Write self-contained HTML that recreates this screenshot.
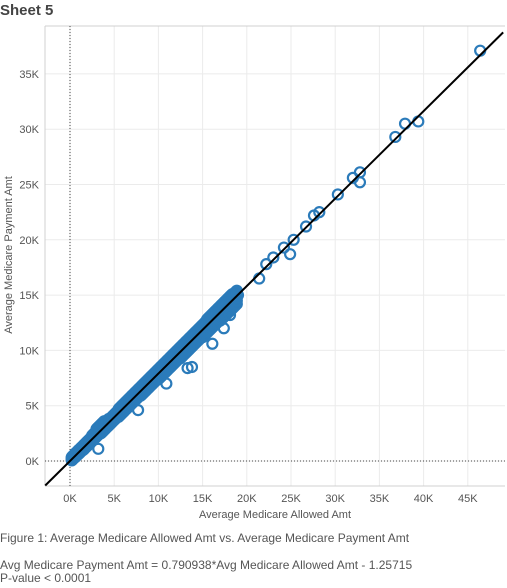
<!DOCTYPE html>
<html><head><meta charset="utf-8"><style>
body{margin:0;width:507px;height:588px;background:#fff;font-family:"Liberation Sans",Arial,sans-serif;overflow:hidden;position:relative}
.t{position:absolute;color:#555;white-space:nowrap}
</style></head><body>
<div class="t" style="left:0;top:2px;font-size:15px;font-weight:bold;color:#444">Sheet 5</div>
<svg id="chart" width="507" height="530" style="position:absolute;left:0;top:0"></svg>
<div class="t" style="left:0;top:531px;font-size:12px">Figure 1: Average Medicare Allowed Amt vs. Average Medicare Payment Amt</div>
<div class="t" style="left:0;top:558px;font-size:12px">Avg Medicare Payment Amt = 0.790938*Avg Medicare Allowed Amt - 1.25715</div>
<div class="t" style="left:0;top:571px;font-size:12px">P-value &lt; 0.0001</div>
<script>
const xTicks=[0,5,10,15,20,25,30,35,40,45];
const yTicks=[0,5,10,15,20,25,30,35];
const clusterX=[0.2,0.6,1,1.5,2,2.5,3,3.5,4,4.5,5,5.5,6,6.5,7,7.5,8,8.5,9,9.5,10,10.5,11,11.5,12,12.5,13,13.5,14,14.5,15,15.5,16,16.5,17,17.5,18,18.5];
const clusterYUpper=[.36,.69,1.0,1.4,1.8,2.3,2.9,3.3,3.5,3.8,4.2,4.7,5.1,5.5,5.9,6.3,6.7,7.1,7.5,7.9,8.3,8.7,9.1,9.5,9.9,10.3,10.7,11.1,11.5,11.9,12.3,12.8,13.2,13.6,14.0,14.4,14.8,15.1];
const clusterYMid=[.2,.5,.8,1.2,1.6,2.0,2.4,2.8,3.1,3.5,3.9,4.3,4.7,5.1,5.5,5.9,6.3,6.7,7.1,7.5,7.8,8.2,8.6,9.0,9.4,9.8,10.2,10.6,11.0,11.4,11.7,12.1,12.5,12.9,13.3,13.7,14.1,14.5];
const clusterYLower=[.05,.35,.65,1.0,1.4,1.8,2.2,2.5,2.9,3.3,3.7,4.0,4.4,4.8,5.2,5.6,5.9,6.3,6.7,7.1,7.4,7.8,8.2,8.6,9.0,9.3,9.7,10.1,10.5,10.9,11.2,11.6,12.0,12.4,12.7,13.1,13.5,13.9];
const outlierX=[46.4,39.4,37.9,36.8,32.8,32.8,32.0,30.3,28.2,27.6,26.7,25.3,24.9,24.2,23.0,22.2,21.4,19.0,18.1,17.4,16.1,13.8,13.3,10.9,7.7,3.2];
const outlierY=[37.1,30.7,30.5,29.3,26.1,25.2,25.6,24.1,22.5,22.2,21.2,20.0,18.7,19.3,18.4,17.8,16.5,15.0,13.2,12.0,10.6,8.5,8.4,7.0,4.6,1.1];
const slope=0.790938, intercept=-0.00125715;
const svg=document.getElementById('chart');const NS='http://www.w3.org/2000/svg';
const L=45,T=26,R=505,B=486;
const sx=v=>70+v*8.84, sy=v=>461-v*11.06;
function mk(tag,attrs,par){const e=document.createElementNS(NS,tag);for(const k in attrs)e.setAttribute(k,attrs[k]);(par||svg).appendChild(e);return e;}
const grid=mk('g',{});


xTicks.forEach(v=>{mk('line',{x1:sx(v),x2:sx(v),y1:T,y2:B,stroke:'#ebebeb'},grid);
 const t=mk('text',{x:sx(v),y:502,'font-size':11,fill:'#555','text-anchor':'middle','font-family':'Liberation Sans, sans-serif'});t.textContent=v+'K';
 
 });
yTicks.forEach(v=>{mk('line',{x1:L,x2:R,y1:sy(v),y2:sy(v),stroke:'#ebebeb'},grid);
 const t=mk('text',{x:39,y:sy(v)+4,'font-size':11,fill:'#555','text-anchor':'end','font-family':'Liberation Sans, sans-serif'});t.textContent=v+'K';
 
 });
mk('line',{x1:L,x2:R,y1:T,y2:T,stroke:'#d0d0d0'});
mk('line',{x1:L,x2:L,y1:T,y2:B,stroke:'#d0d0d0'});
mk('line',{x1:L,x2:R,y1:B,y2:B,stroke:'#d0d0d0'});
mk('line',{x1:sx(0),x2:sx(0),y1:T,y2:B,stroke:'#444','stroke-dasharray':'1,2'});
mk('line',{x1:L,x2:R,y1:sy(0),y2:sy(0),stroke:'#444','stroke-dasharray':'1,2'});
const pts=mk('g',{fill:'none',stroke:'#2b7bba','stroke-width':2.2});


function dot(x,y){const c=mk('circle',{cx:sx(x),cy:sy(y),r:5},pts);
 
 }
clusterX.forEach((x,i)=>{
 [0,0.12,0.25,0.37].forEach(o=>{
  dot(x+o,clusterYUpper[i]+o*0.8);dot(x+o,clusterYMid[i]+o*0.8);dot(x+o,clusterYLower[i]+o*0.8);
  dot(x+o,(clusterYUpper[i]+clusterYMid[i])/2+o*0.8);dot(x+o,(clusterYLower[i]+clusterYMid[i])/2+o*0.8);
 });
});
outlierX.forEach((x,i)=>dot(x,outlierY[i]));
const x0=-2.8,x1=49;
const tl=mk('line',{x1:sx(x0),y1:sy(slope*x0+intercept),x2:sx(x1),y2:sy(slope*x1+intercept),stroke:'#000','stroke-width':2});


const xt=mk('text',{x:275,y:518,'font-size':11,fill:'#555','text-anchor':'middle','font-family':'Liberation Sans, sans-serif'});xt.textContent='Average Medicare Allowed Amt';


const yt=mk('text',{x:0,y:0,'font-size':11,fill:'#555','text-anchor':'middle','transform':'translate(12,255) rotate(-90)','font-family':'Liberation Sans, sans-serif'});yt.textContent='Average Medicare Payment Amt';


</script>
</body></html>
